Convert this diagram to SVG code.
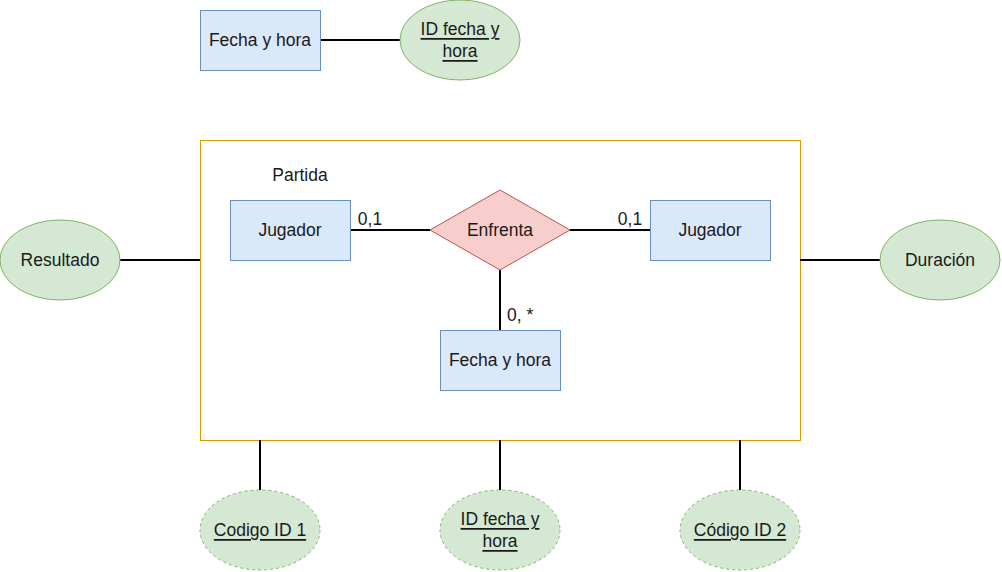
<svg xmlns="http://www.w3.org/2000/svg" width="1002" height="572" viewBox="0 0 1002 572">
<style>
text{font-family:"Liberation Sans",Arial,sans-serif;font-size:17.5px;fill:#1a1a1a}
.c{text-anchor:middle;dominant-baseline:central}
.u{text-decoration:underline}
.ent{fill:#dae8fc;stroke:#6c8ebf;stroke-width:1}
.att{fill:#d5e8d4;stroke:#82b366;stroke-width:1}
.weak{fill:#d5e8d4;stroke:#82b366;stroke-width:1;stroke-dasharray:3 3}
.rel{fill:#f8cecc;stroke:#b85450;stroke-width:1}
.ln{stroke:#000;stroke-width:2;fill:none}
</style>
<rect width="1002" height="572" fill="#fff"/>
<g id="partida">
<rect x="200.5" y="140.5" width="600" height="300" fill="#fff" stroke="#d79b00"/>
<text x="300" y="175" class="c">Partida</text>
</g>
<g id="connectors">
<path class="ln" d="M320 40H400"/>
<path class="ln" d="M350 230H430"/>
<path class="ln" d="M570 230H650"/>
<path class="ln" d="M500 270V330"/>
<path class="ln" d="M120 260H200"/>
<path class="ln" d="M800 260H880"/>
<path class="ln" d="M260 440V490"/>
<path class="ln" d="M500 440V490"/>
<path class="ln" d="M740 440V490"/>
<text x="370" y="219" class="c">0,1</text>
<text x="630" y="219" class="c">0,1</text>
<text x="507" y="315" dominant-baseline="central">0, *</text>
</g>
<g id="fecha-top">
<rect class="ent" x="200.5" y="10.5" width="120" height="60"/>
<text x="260" y="40" class="c">Fecha y hora</text>
</g>
<g id="id-fecha-top">
<ellipse class="att" cx="460" cy="40" rx="60" ry="40"/>
<text x="460" y="29" class="c u">ID fecha y</text>
<text x="460" y="51" class="c u">hora</text>
</g>
<g id="jugador1">
<rect class="ent" x="230.5" y="200.5" width="120" height="60"/>
<text x="290" y="230" class="c">Jugador</text>
</g>
<g id="enfrenta">
<polygon class="rel" points="500,190 570,230 500,270 430,230"/>
<text x="500" y="230" class="c">Enfrenta</text>
</g>
<g id="jugador2">
<rect class="ent" x="650.5" y="200.5" width="120" height="60"/>
<text x="710" y="230" class="c">Jugador</text>
</g>
<g id="fecha-inner">
<rect class="ent" x="440.5" y="330.5" width="120" height="60"/>
<text x="500" y="360" class="c">Fecha y hora</text>
</g>
<g id="resultado">
<ellipse class="att" cx="60" cy="260" rx="60" ry="40"/>
<text x="60" y="260" class="c">Resultado</text>
</g>
<g id="duracion">
<ellipse class="att" cx="940" cy="260" rx="60" ry="40"/>
<text x="940" y="260" class="c">Duración</text>
</g>
<g id="codigo1">
<ellipse class="weak" cx="260" cy="530" rx="60" ry="40"/>
<text x="260" y="530" class="c u">Codigo ID 1</text>
</g>
<g id="id-fecha-bottom">
<ellipse class="weak" cx="500" cy="530" rx="60" ry="40"/>
<text x="500" y="519" class="c u">ID fecha y</text>
<text x="500" y="541" class="c u">hora</text>
</g>
<g id="codigo2">
<ellipse class="weak" cx="740" cy="530" rx="60" ry="40"/>
<text x="740" y="530" class="c u">Código ID 2</text>
</g>
</svg>
